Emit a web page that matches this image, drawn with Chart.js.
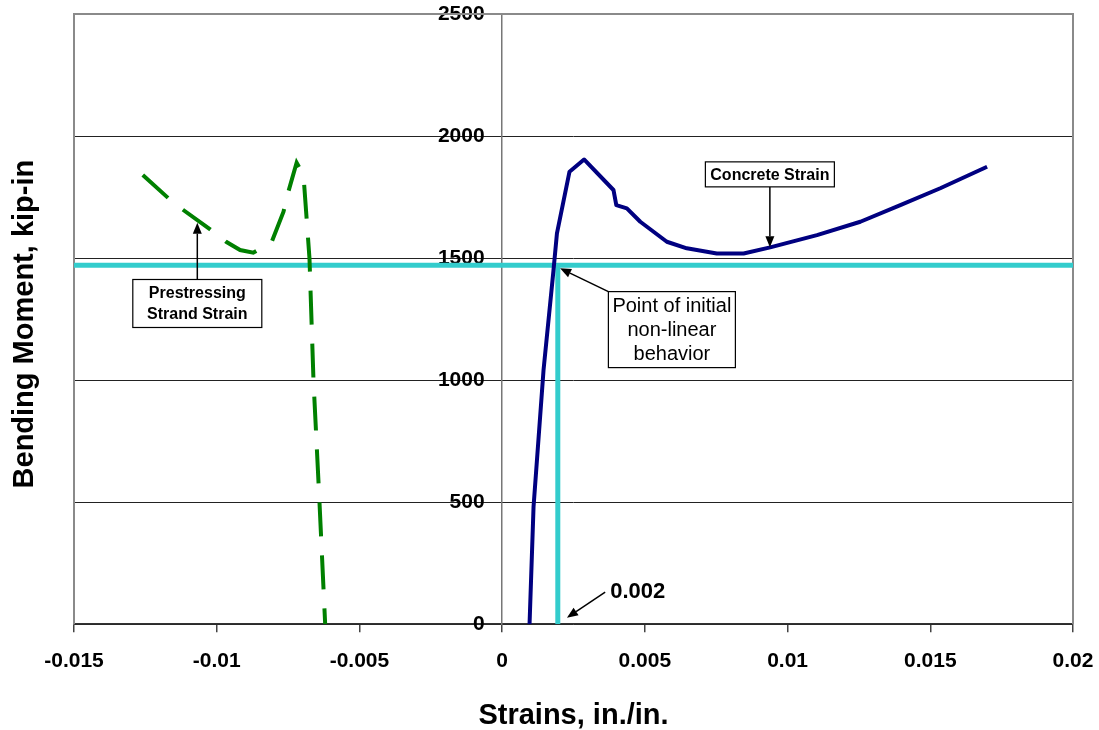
<!DOCTYPE html>
<html>
<head>
<meta charset="utf-8">
<script src="https://cdn.jsdelivr.net/npm/chart.js@4.4.1/dist/chart.umd.min.js"></script>
<style>
  html, body { margin: 0; padding: 0; background: #fff; }
  #wrap { width: 1099px; height: 730px; position: relative; }
</style>
</head>
<body>
<div id="wrap"><canvas id="c" width="1099" height="730"></canvas></div>
<script>
// ---- data ----
const concreteStrain = [0.00096, 0.0011, 0.00145, 0.0018, 0.00192, 0.00236, 0.00287, 0.0039, 0.004, 0.00437, 0.00484, 0.00577, 0.00647, 0.00752, 0.00846, 0.00939, 0.01103, 0.01255, 0.01395, 0.01535, 0.01699];
const concreteMoment = [0, 481, 1041, 1451, 1601, 1854, 1904, 1779, 1717, 1704, 1649, 1567, 1540, 1519, 1519, 1544, 1594, 1649, 1717, 1786, 1874];

const strandStrain = [-0.01259, -0.01169, -0.01117, -0.01023, -0.00967, -0.00918, -0.00872, -0.00807, -0.00766, -0.00749, -0.0072, -0.00696, -0.00675, -0.00661, -0.0064, -0.0062];
const strandMoment = [1840, 1745, 1697, 1618, 1567, 1533, 1522, 1567, 1690, 1772, 1891, 1840, 1499, 1000, 501, 0];

const limitMoment = 1471;        // horizontal reference line
const limitStrain = 0.00195;     // vertical reference line (0.002)
const hLineStrain = [-0.015, 0.02];

const xTickLabels = ["-0.015", "-0.01", "-0.005", "0", "0.005", "0.01", "0.015", "0.02"];
const yTickLabels = ["0", "500", "1000", "1500", "2000", "2500"];

const xTitle = "Strains, in./in.";
const yTitle = "Bending Moment, kip-in";

// ---- build points ----
const concretePts = concreteStrain.map((v, i) => ({x: v, y: concreteMoment[i]}));
const strandPts = strandStrain.map((v, i) => ({x: v, y: strandMoment[i]}));
const hLinePts = hLineStrain.map(v => ({x: v, y: limitMoment}));
const vLinePts = [{x: limitStrain, y: 0}, {x: limitStrain, y: limitMoment}];

const FONT = "'Liberation Sans', Arial, Helvetica, sans-serif";

// annotations in data coordinates
const notes = [
  {lines: ["Concrete Strain"], bold: true, size: 16, lh: 20, cx: 0.00938, cy: 1843, w: 129, h: 25,
   from: 'bottom', tip: {x: 0.00938, y: 1544}},
  {lines: ["Prestressing", "Strand Strain"], bold: true, size: 16, lh: 21, cx: -0.01068, cy: 1314, w: 129, h: 48,
   from: 'top', tip: {x: -0.01068, y: 1645}},
  {lines: ["Point of initial", "non-linear", "behavior"], bold: false, size: 20, lh: 24, cx: 0.005947, cy: 1207, w: 127, h: 76,
   from: 'topleft', tip: {x: 0.00203, y: 1458}}
];
const label002 = {text: "0.002", x: 0.00361, y: 132, tip: {x: 0.00227, y: 27}};

function arrow(ctx, x1, y1, x2, y2) {
  const ang = Math.atan2(y2 - y1, x2 - x1);
  const L = 11, W = 4.5;
  const bx = x2 - L * Math.cos(ang), by = y2 - L * Math.sin(ang);
  ctx.beginPath();
  ctx.moveTo(x1, y1);
  ctx.lineTo(bx, by);
  ctx.stroke();
  ctx.beginPath();
  ctx.moveTo(x2, y2);
  ctx.lineTo(bx + W * Math.sin(ang), by - W * Math.cos(ang));
  ctx.lineTo(bx - W * Math.sin(ang), by + W * Math.cos(ang));
  ctx.closePath();
  ctx.fill();
}

const decor = {
  id: 'decor',
  beforeDatasetsDraw(chart) {
    const {ctx, chartArea: a} = chart;
    ctx.save();
    ctx.strokeStyle = '#8a8a8a';
    ctx.lineWidth = 2;
    ctx.beginPath();
    ctx.moveTo(a.left, a.bottom);
    ctx.lineTo(a.left, a.top);
    ctx.lineTo(a.right, a.top);
    ctx.lineTo(a.right, a.bottom);
    ctx.stroke();
    ctx.restore();
  },
  afterDatasetsDraw(chart) {
    const {ctx, scales: {x, y}, chartArea: a} = chart;
    ctx.save();
    ctx.fillStyle = '#000';
    ctx.strokeStyle = '#000';
    ctx.lineWidth = 1.5;
    for (const n of notes) {
      const cx = x.getPixelForValue(n.cx), cy = y.getPixelForValue(n.cy);
      const left = cx - n.w / 2, top = cy - n.h / 2;
      const tx = x.getPixelForValue(n.tip.x), ty = y.getPixelForValue(n.tip.y);
      let sx, sy;
      if (n.from === 'bottom') { sx = tx; sy = top + n.h; }
      else if (n.from === 'top') { sx = tx; sy = top; }
      else { sx = left; sy = top; }
      ctx.lineWidth = 1.5;
      arrow(ctx, sx, sy, tx, ty);
      ctx.fillStyle = '#fff';
      ctx.fillRect(left, top, n.w, n.h);
      ctx.strokeStyle = '#000';
      ctx.lineWidth = 1.2;
      ctx.strokeRect(left, top, n.w, n.h);
      ctx.fillStyle = '#000';
      ctx.font = (n.bold ? 'bold ' : '') + n.size + 'px ' + FONT;
      ctx.textAlign = 'center';
      ctx.textBaseline = 'middle';
      const startY = cy - (n.lines.length - 1) * n.lh / 2;
      n.lines.forEach((t, i) => ctx.fillText(t, cx, startY + i * n.lh + 1));
    }
    // 0.002 label
    const lx = x.getPixelForValue(label002.x), ly = y.getPixelForValue(label002.y);
    ctx.font = 'bold 22px ' + FONT;
    ctx.textAlign = 'left';
    ctx.textBaseline = 'middle';
    ctx.fillText(label002.text, lx + 5, ly);
    ctx.lineWidth = 1.5;
    arrow(ctx, lx, ly, x.getPixelForValue(label002.tip.x), y.getPixelForValue(label002.tip.y));
    // y axis title
    ctx.save();
    ctx.translate(32.5, (a.top + a.bottom) / 2 + 5);
    ctx.rotate(-Math.PI / 2);
    ctx.font = 'bold 29px ' + FONT;
    ctx.textAlign = 'center';
    ctx.textBaseline = 'alphabetic';
    ctx.fillText(yTitle, 0, 0);
    ctx.restore();
    ctx.restore();
  }
};

new Chart(document.getElementById('c'), {
  type: 'scatter',
  data: {
    datasets: [
      {label: 'Concrete Strain', data: concretePts, showLine: true, borderColor: '#000080', borderWidth: 4,
       pointRadius: 0, tension: 0, fill: false, borderJoinStyle: 'round'},
      {label: 'Prestressing Strand Strain', data: strandPts, showLine: true, borderColor: '#008000', borderWidth: 4,
       borderDash: [34, 19], pointRadius: 0, tension: 0, fill: false},
      {label: 'Limit', data: hLinePts, showLine: true, borderColor: '#33CCCC', borderWidth: 5, pointRadius: 0, fill: false},
      {label: '0.002', data: vLinePts, showLine: true, borderColor: '#33CCCC', borderWidth: 5, pointRadius: 0, fill: false}
    ]
  },
  options: {
    responsive: false,
    animation: false,
    devicePixelRatio: 1,
    layout: {padding: {left: 74, right: 26, top: 14, bottom: 0}},
    plugins: {legend: {display: false}, tooltip: {enabled: false}},
    scales: {
      x: {
        type: 'linear', position: 'bottom', min: -0.015, max: 0.02,
        afterBuildTicks: s => { s.ticks = xTickLabels.map(t => ({value: parseFloat(t)})); },
        ticks: {callback: (v, i) => xTickLabels[i], font: {family: FONT, size: 21, weight: 'bold', lineHeight: 2.57}, color: '#000', padding: 2, maxRotation: 0, autoSkip: false},
        grid: {display: true, drawOnChartArea: false, drawTicks: true, tickLength: 8, color: '#444', lineWidth: 1.5},
        border: {display: true, color: '#333', width: 1.5},
        title: {display: true, text: xTitle, font: {family: FONT, size: 29, weight: 'bold'}, color: '#000', padding: {top: 8, bottom: -3}}
      },
      y: {
        type: 'linear', position: {x: 0}, min: 0, max: 2500,
        afterBuildTicks: s => { s.ticks = yTickLabels.map(t => ({value: parseFloat(t)})); },
        ticks: {callback: (v, i) => yTickLabels[i] + '\u2007\u2008', font: {family: FONT, size: 21, weight: 'bold'}, color: '#000', padding: 0, autoSkip: false},
        grid: {display: true, drawOnChartArea: true, drawTicks: true, tickLength: 6, color: '#222', lineWidth: 1},
        border: {display: true, color: '#777', width: 1.5}
      }
    }
  },
  plugins: [decor]
});
</script>
</body>
</html>
